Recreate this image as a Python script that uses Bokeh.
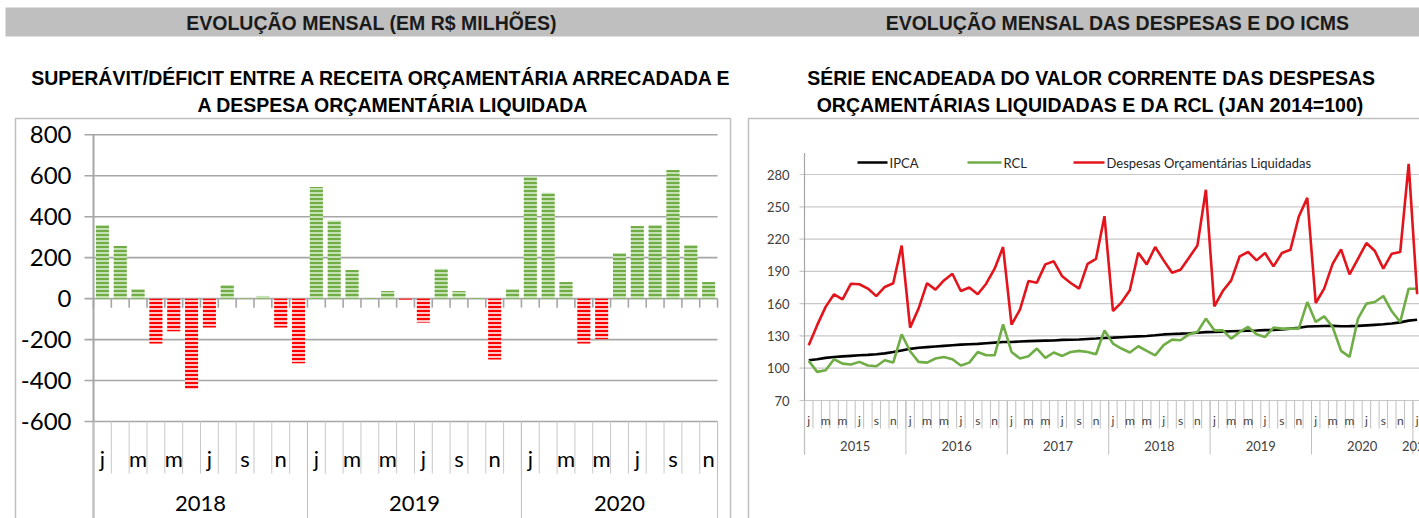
from bokeh.plotting import figure
from bokeh.models import Range1d, ColumnDataSource
from bokeh.core.properties import value
from bokeh.embed import file_html
from bokeh.resources import INLINE

# ---------------- data ----------------
month_initials = ["j", "f", "m", "a", "m", "j", "j", "a", "s", "o", "n", "d"]

# left chart: monthly surplus/deficit (R$ millions), jan/2018 .. nov/2020
left_years = ["2018", "2019", "2020"]
left_months_per_year = [12, 12, 11]
surplus = [360, 257, 47, -219, -159, -442, -141, 67, 2, 13, -141, -315,
           545, 382, 140, 3, 37, -5, -117, 146, 37, 3, -297, 47,
           598, 517, 81, -219, -198, 223, 355, 360, 628, 262, 81]
left_yticks = [-600, -400, -200, 0, 200, 400, 600, 800]

# right chart: chained index (jan 2014 = 100), jan/2015 .. jan/2021
right_years = ["2015", "2016", "2017", "2018", "2019", "2020", "2021"]
right_months_per_year = [12, 12, 12, 12, 12, 12, 1]
ipca = [107.4, 108.3, 109.6, 110.4, 111.0, 111.5, 112.0, 112.4, 113.0, 113.8, 115.0, 116.5,
        118.0, 119.0, 119.6, 120.2, 120.8, 121.4, 121.9, 122.3, 122.6, 123.2, 123.8, 124.3,
        124.4, 124.8, 125.2, 125.4, 125.6, 125.8, 126.3, 126.5, 126.7, 127.2, 127.6, 128.1,
        128.4, 128.8, 129.2, 129.6, 130.0, 130.6, 131.4, 131.8, 132.1, 132.5, 133.0, 133.5,
        133.7, 134.0, 134.3, 134.6, 134.8, 135.0, 135.4, 135.6, 136.0, 136.8, 137.6, 138.8,
        139.0, 139.2, 139.3, 139.0, 139.1, 139.3, 139.8, 140.3, 140.8, 141.6, 142.6, 144.2,
        145.0]
rcl = [106.8, 96.6, 98.1, 108.3, 104.3, 103.4, 105.9, 102.5, 101.8, 107.4, 105.2, 131.5,
       115.8, 105.9, 105.2, 109.0, 110.5, 108.3, 102.5, 105.2, 115.1, 112.0, 112.0, 140.8,
       115.1, 109.0, 111.1, 118.3, 109.6, 114.6, 111.4, 115.1, 116.1, 115.1, 113.0, 135.2,
       122.9, 118.3, 114.6, 120.4, 116.1, 112.0, 121.4, 126.6, 126.0, 131.5, 133.7, 146.1,
       135.2, 135.2, 127.5, 133.7, 138.3, 131.5, 129.1, 137.7, 136.8, 136.8, 136.8, 161.5,
       143.0, 148.2, 138.3, 116.1, 110.5, 146.1, 160.0, 161.5, 167.1, 152.9, 143.0, 173.9,
       173.9]
despesas = [121.3, 140.0, 157.0, 168.7, 164.0, 178.5, 178.0, 174.0, 167.0, 175.5, 179.0, 214.0,
            137.7, 155.4, 179.0, 173.0, 181.6, 187.8, 171.7, 175.0, 168.7, 178.5, 192.5, 212.6,
            140.5, 154.4, 181.0, 179.5, 196.5, 199.3, 185.4, 179.2, 174.0, 197.0, 201.7, 241.3,
            153.2, 161.0, 172.4, 207.3, 196.5, 212.6, 200.2, 188.8, 191.5, 202.7, 214.1, 265.8,
            157.5, 171.7, 181.6, 204.0, 208.0, 200.2, 207.0, 194.6, 207.0, 210.0, 241.0, 258.3,
            160.6, 174.0, 197.0, 210.4, 187.2, 201.7, 216.3, 208.9, 192.5, 206.4, 208.0, 289.9,
            168.7]
right_yticks = [70, 100, 130, 160, 190, 220, 250, 280]
right_ymax = 300

header_left = "EVOLUÇÃO MENSAL (EM R$ MILHÕES)"
header_right = "EVOLUÇÃO MENSAL DAS DESPESAS E DO ICMS"
title_left = ["SUPERÁVIT/DÉFICIT ENTRE A RECEITA ORÇAMENTÁRIA ARRECADADA E",
              "A DESPESA ORÇAMENTÁRIA LIQUIDADA"]
title_right = ["SÉRIE ENCADEADA DO VALOR CORRENTE DAS DESPESAS",
               "ORÇAMENTÁRIAS LIQUIDADAS E DA RCL (JAN 2014=100)"]
legend_labels = ["IPCA", "RCL", "Despesas Orçamentárias Liquidadas"]

# ---------------- layout (page pixels) ----------------
VX0, VX1, VY0, VY1 = 0.0, 1419.0, 0.0, 518.0   # visible page area

def lin(p0, v0, p1, v1, p):
    return v0 + (p - p0) * (v1 - v0) / (p1 - p0)

# left chart geometry
L_AX, L_STEP = 93.0, 17.83
L_PY_TOP, L_PY_BOT = 134.3, 421.0
L_N = len(surplus)
def lpx(i): return L_AX + L_STEP * (i + 0.5)
def lbx(k): return L_AX + L_STEP * k
def lpy(v): return lin(800, L_PY_TOP, -600, L_PY_BOT, v)
def l_i(px): return (px - L_AX) / L_STEP - 0.5
def l_v(py): return lin(L_PY_TOP, 800, L_PY_BOT, -600, py)

# right chart geometry
R_AX, R_STEP = 804.0, 8.45
R_PY70, R_PY280 = 400.0, 174.0
R_N = len(ipca)
def rpx(i): return R_AX + R_STEP * (i + 0.5)
def rbx(k): return R_AX + R_STEP * k
def rpy(v): return lin(70, R_PY70, 280, R_PY280, v)
def r_i(px): return (px - R_AX) / R_STEP - 0.5
def r_v(py): return lin(R_PY70, 70, R_PY280, 280, py)

p = figure(width=1419, height=518, x_range=Range1d(VX0, VX1), y_range=Range1d(VY1, VY0),
           x_axis_type=None, y_axis_type=None, toolbar_location=None,
           output_backend="svg", min_border=0, outline_line_color=None,
           background_fill_color="white", border_fill_color="white")
p.extra_x_ranges = {"lx": Range1d(l_i(VX0), l_i(VX1)), "rx": Range1d(r_i(VX0), r_i(VX1))}
p.extra_y_ranges = {"ly": Range1d(l_v(VY1), l_v(VY0)), "ry": Range1d(r_v(VY1), r_v(VY0))}

HEAD_FONT = value("Liberation Sans")
CAL = value("Lato")
GRID = "#a6a6a6"

# ---- header bar + titles ----
p.quad(left=[5], right=[VX1], top=[7], bottom=[36], fill_color="#bfbfbf", line_color=None)
p.text(x=[371, 1117], y=[22, 22], text=[header_left, header_right], text_font=HEAD_FONT,
       text_font_style="bold", text_font_size=value("19.5px"), text_align="center",
       text_baseline="middle", text_color="#1a1a1a")
p.text(x=[382, 393, 1091, 1090], y=[77, 104, 77, 104],
       text=[title_left[0], title_left[1], title_right[0], title_right[1]], text_font=HEAD_FONT,
       text_font_style="bold", text_font_size=value("19.5px"), text_align="center",
       text_baseline="middle", text_color="#000000")

# ---- chart boxes ----
p.multi_line(xs=[[15, 15, 730, 730], [748, 748, VX1]], ys=[[VY1, 118, 118, VY1], [VY1, 118, 118]],
             line_color="#bfbfbf", line_width=1.5)

# ================= LEFT CHART =================
l_end = lbx(L_N)
p.segment(x0=[84] * len(left_yticks), x1=[l_end] * len(left_yticks), y0=left_yticks,
          y1=left_yticks, y_range_name="ly", line_color=GRID, line_width=1.6)
p.text(x=[71] * len(left_yticks), y=left_yticks, text=[str(t) for t in left_yticks],
       y_range_name="ly", text_font=CAL, text_font_size=value("24px"), text_align="right",
       text_baseline="middle", text_color="#000000")

colors = ["#70ad47" if v >= 0 else "#ff0000" for v in surplus]
fills = ["#c5e0b3" if v >= 0 else "#ffc7c7" for v in surplus]
src = ColumnDataSource(dict(x=list(range(L_N)), top=surplus, hc=colors, fc=fills))
p.vbar(x="x", top="top", bottom=0, width=0.73, source=src, x_range_name="lx", y_range_name="ly",
       fill_color="fc", line_color=None, hatch_pattern="horizontal_line", hatch_color="hc",
       hatch_scale=4, hatch_weight=2)

# y axis line
p.segment(x0=[L_AX], x1=[L_AX], y0=[lpy(800)], y1=[VY1], line_color=GRID, line_width=2)
# ticks on the zero line
kb = list(range(L_N + 1))
z = lpy(0)
p.segment(x0=[lbx(k) for k in kb], x1=[lbx(k) for k in kb], y0=[z] * len(kb), y1=[z + 9] * len(kb),
          line_color=GRID, line_width=1.6)
# category axis at the bottom
yb = lpy(-600)
p.segment(x0=[lbx(k) for k in kb], x1=[lbx(k) for k in kb], y0=[yb] * len(kb), y1=[473] * len(kb),
          line_color="#c8c8c8", line_width=1)
mi = [i for i in range(L_N) if (i % 12) % 2 == 0]
p.text(x=[lpx(i) for i in mi], y=[458] * len(mi), text=[month_initials[i % 12] for i in mi],
       text_font=CAL, text_font_size=value("22px"), text_align="center", text_baseline="middle",
       text_color="#000000")
yk, s = [0], 0
for n in left_months_per_year:
    s += n
    yk.append(s)
p.segment(x0=[lbx(k) for k in yk], x1=[lbx(k) for k in yk], y0=[yb] * len(yk), y1=[VY1] * len(yk),
          line_color="#bfbfbf", line_width=1)
p.text(x=[(lbx(yk[j]) + lbx(yk[j + 1])) / 2 for j in range(len(left_years))],
       y=[503] * len(left_years), text=left_years, text_font=CAL, text_font_size=value("22px"),
       text_align="center", text_baseline="middle", text_color="#000000")

# ================= RIGHT CHART =================
p.segment(x0=[799] * len(right_yticks), x1=[VX1] * len(right_yticks), y0=right_yticks,
          y1=right_yticks, y_range_name="ry", line_color="#c8c8c8", line_width=1.2)
p.text(x=[789] * len(right_yticks), y=right_yticks, text=[str(t) for t in right_yticks],
       y_range_name="ry", text_font=CAL, text_font_size=value("13px"), text_align="right",
       text_baseline="middle", text_color="#404040")
p.segment(x0=[R_AX], x1=[R_AX], y0=[rpy(right_ymax)], y1=[454], line_color="#a6a6a6", line_width=1.2)
rk = list(range(R_N + 1))
p.segment(x0=[rbx(k) for k in rk], x1=[rbx(k) for k in rk], y0=[R_PY70] * len(rk), y1=[428] * len(rk),
          line_color="#c0c0c0", line_width=1)
rmi = [i for i in range(R_N) if (i % 12) % 2 == 0]
p.text(x=[rpx(i) for i in rmi], y=[420] * len(rmi), text=[month_initials[i % 12] for i in rmi],
       text_font=CAL, text_font_size=value("12px"), text_align="center", text_baseline="middle",
       text_color="#404040")
ryk, s = [0], 0
for n in right_months_per_year:
    s += n
    ryk.append(s)
p.segment(x0=[rbx(k) for k in ryk], x1=[rbx(k) for k in ryk], y0=[R_PY70] * len(ryk),
          y1=[454] * len(ryk), line_color="#c0c0c0", line_width=1)
p.text(x=[(rbx(ryk[j]) + rbx(ryk[j + 1])) / 2 for j in range(len(right_years))],
       y=[445] * len(right_years), text=right_years, text_font=CAL, text_font_size=value("13px"),
       text_align="center", text_baseline="middle", text_color="#404040")

xs = list(range(R_N))
series = [(ipca, "#000000"), (rcl, "#70ad47"), (despesas, "#e3141b")]
for vals, col in series:
    p.line(x=xs, y=vals, x_range_name="rx", y_range_name="ry", line_color=col, line_width=2.6)

# legend
leg_x = [(857, 887), (967, 1001), (1073, 1104)]
for (a, b), (vals, col), lab in zip(leg_x, series, legend_labels):
    p.segment(x0=[a], x1=[b], y0=[162], y1=[162], line_color=col, line_width=2.6)
    p.text(x=[b + 2], y=[162], text=[lab], text_font=CAL, text_font_size=value("13px"),
           text_align="left", text_baseline="middle", text_color="#262626")

open("out.html", "w").write(file_html(p, INLINE))
